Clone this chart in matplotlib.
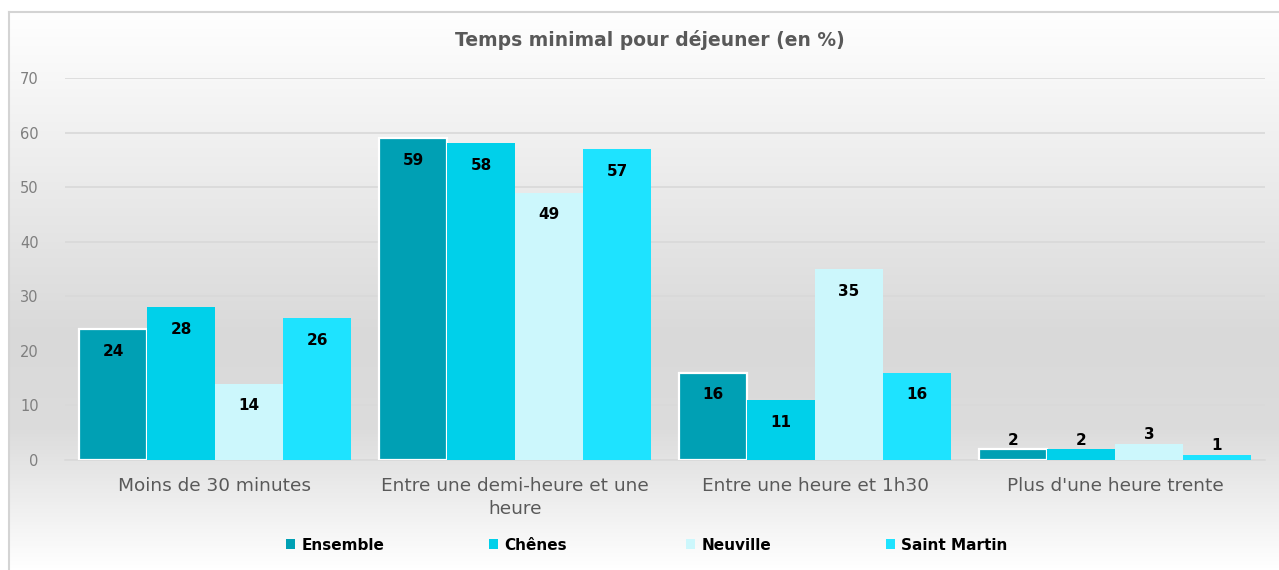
import numpy as np
import matplotlib
matplotlib.use("Agg")
import matplotlib.pyplot as plt
from matplotlib.colors import LinearSegmentedColormap

categories = ["Moins de 30 minutes", "Entre une demi-heure et une\nheure",
              "Entre une heure et 1h30", "Plus d'une heure trente"]
series_names = ["Ensemble", "Chênes", "Neuville", "Saint Martin"]
ensemble = [24, 59, 16, 2]
chenes = [28, 58, 11, 2]
neuville = [14, 49, 35, 3]
saint_martin = [26, 57, 16, 1]
series_values = [ensemble, chenes, neuville, saint_martin]
colors = ["#00A0B4", "#00D0EA", "#CCF7FC", "#1EE3FF"]
yticks = [0, 10, 20, 30, 40, 50, 60, 70]

plt.rcParams['font.family'] = ['DejaVu Sans']

W, H = 1279, 570
fig = plt.figure(figsize=(W / 100, H / 100), dpi=100)
fig.patch.set_facecolor("white")

bg = fig.add_axes([8 / W, 0, 1 - 8 / W, 1 - 11 / H], zorder=0)
bg.set_axis_off()
cmap = LinearSegmentedColormap.from_list(
    "g", [(0.0, "#ffffff"), (0.58, "#d9d9d9"), (0.75, "#dcdcdc"), (1.0, "#ffffff")])
grad = np.linspace(0, 1, 512).reshape(-1, 1)
bg.imshow(grad, aspect="auto", cmap=cmap, extent=[0, 1, 0, 1], origin="upper")
bg.set_xlim(0, 1)
bg.set_ylim(0, 1)
fig.add_artist(plt.Line2D([8.5 / W, 1], [1 - 11.5 / H, 1 - 11.5 / H], color="#d4d4d4", lw=1.5, zorder=1))
fig.add_artist(plt.Line2D([8.5 / W, 8.5 / W], [0, 1 - 11.5 / H], color="#d4d4d4", lw=1.5, zorder=1))

ax = fig.add_axes([65 / W, (H - 460) / H, 1200 / W, 382 / H], zorder=2)
ax.patch.set_alpha(0)

n = len(series_names)
bw = 0.2267
x = np.arange(len(categories))
containers = []
for j, (name, vals, c) in enumerate(zip(series_names, series_values, colors)):
    pos = x + (j - (n - 1) / 2) * bw
    if j == 0:
        bc = ax.bar(pos, vals, bw, color=c, edgecolor="white", linewidth=1.6, label=name, zorder=3)
    else:
        bc = ax.bar(pos, vals, bw, color=c, edgecolor="none", label=name, zorder=3)
    containers.append(bc)
    for p, v in zip(pos, vals):
        if v >= 5:
            ax.annotate(str(v), (p, v), xytext=(0, -16), textcoords="offset points",
                        ha="center", va="center", fontsize=11, fontweight="bold", color="black", zorder=4)
        else:
            ax.annotate(str(v), (p, v), xytext=(0, 1), textcoords="offset points",
                        ha="center", va="bottom", fontsize=11, fontweight="bold", color="black", zorder=4)

ax.set_xlim(-0.5, len(categories) - 0.5)
ax.set_ylim(0, 70)
ax.set_yticks(yticks)
ax.yaxis.grid(True, color="#d9d9d9", lw=1.2, zorder=0)
ax.set_axisbelow(True)
for s in ["top", "right", "left"]:
    ax.spines[s].set_visible(False)
ax.spines["bottom"].set_color("#d9d9d9")
ax.spines["bottom"].set_linewidth(1.2)
ax.tick_params(axis="y", length=0, pad=19, labelsize=10.5, labelcolor="#7f7f7f")
ax.tick_params(axis="x", length=0, pad=12, labelsize=13.3, labelcolor="#595959")
ax.set_xticks(x)
ax.set_xticklabels(categories, linespacing=1.35)

fig.text(0.508, 1 - 40 / H, "Temps minimal pour déjeuner (en %)", ha="center", va="center",
         fontsize=13.5, fontweight="bold", color="#595959")

legend_x = [286, 489, 686, 886]
for h, name, lx in zip(containers, series_names, legend_x):
    leg = fig.legend(handles=[h], labels=[name], loc="center left", bbox_to_anchor=(lx / W, 25 / H),
                     frameon=False, handlelength=0.6, handleheight=0.6, handletextpad=0.4,
                     borderpad=0, borderaxespad=0, prop={"weight": "bold", "size": 11})
    for hh in leg.legend_handles:
        hh.set_edgecolor("none")

fig.savefig("out.png", dpi=100)
